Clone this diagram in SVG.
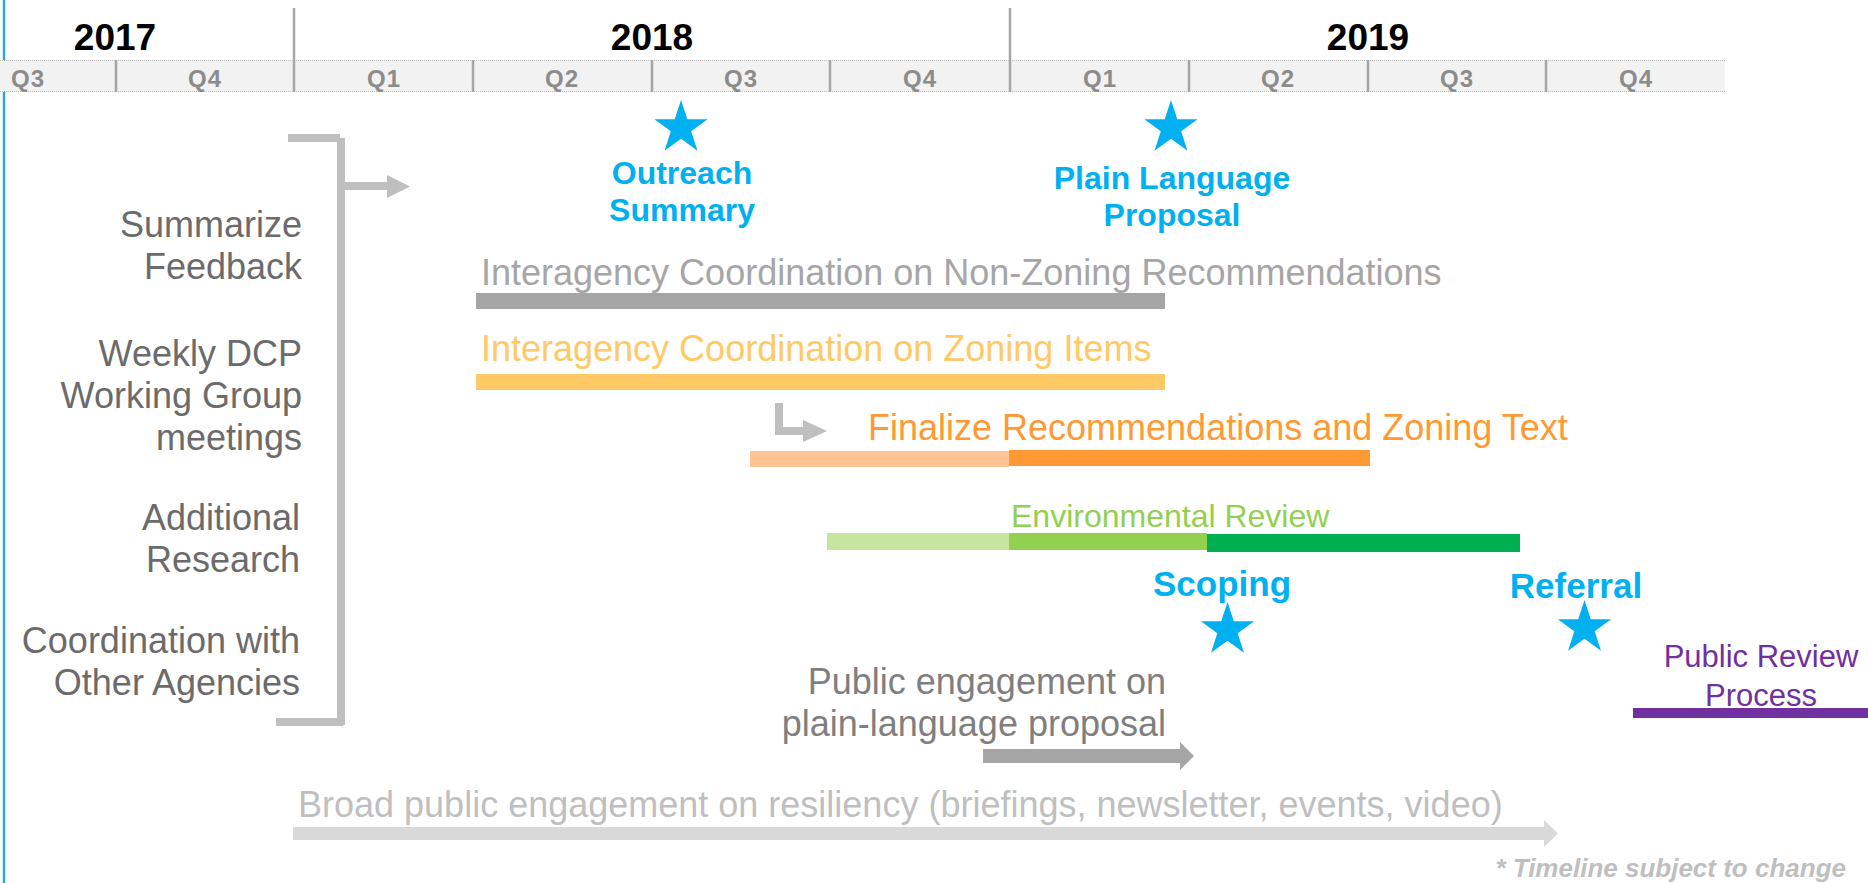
<svg xmlns="http://www.w3.org/2000/svg" width="1868" height="883" viewBox="0 0 1868 883">
<style>
text{font-family:"Liberation Sans",Arial,sans-serif}
.yr{font-size:37px;font-weight:bold;fill:#000;text-anchor:middle}
.q{font-size:24px;font-weight:bold;fill:#8c8c8c;text-anchor:middle;letter-spacing:1px}
.sep{stroke:#a6a6a6;stroke-width:2.5}
.left{font-size:36px;fill:#6b6b6b;text-anchor:end}
.ms{font-size:32px;font-weight:bold;fill:#00b0f0;text-anchor:middle}
.ms2{font-size:35px;font-weight:bold;fill:#00b0f0;text-anchor:middle}
.star{fill:#00b0f0}
.task{font-size:36px}
.brk{fill:#bfbfbf}
</style>
<defs>
<path id="star" d="M0,-28 L6.29,-8.66 L26.63,-8.65 L10.18,3.31 L16.46,22.65 L0,10.7 L-16.46,22.65 L-10.18,3.31 L-26.63,-8.65 L-6.29,-8.66 Z"/>
</defs>
<rect width="1868" height="883" fill="#fff"/>
<line x1="4" y1="0" x2="4" y2="883" stroke="#2aa7d6" stroke-width="2.5"/>

<g id="timeline-header">
<line class="sep" x1="294" y1="8" x2="294" y2="92"/>
<line class="sep" x1="1010" y1="8" x2="1010" y2="92"/>
<text class="yr" x="115" y="50">2017</text>
<text class="yr" x="652" y="50">2018</text>
<text class="yr" x="1368" y="50">2019</text>
<rect x="0" y="60" width="1725" height="32" fill="#f2f2f2"/>
<line x1="0" y1="60.5" x2="1725" y2="60.5" stroke="#bfbfbf" stroke-width="1" stroke-dasharray="1,1"/>
<line x1="0" y1="91.5" x2="1725" y2="91.5" stroke="#bfbfbf" stroke-width="1" stroke-dasharray="1,1"/>
<g class="sep">
<line x1="116" y1="60" x2="116" y2="92"/>
<line x1="294" y1="60" x2="294" y2="92"/>
<line x1="473" y1="60" x2="473" y2="92"/>
<line x1="652" y1="60" x2="652" y2="92"/>
<line x1="830" y1="60" x2="830" y2="92"/>
<line x1="1010" y1="60" x2="1010" y2="92"/>
<line x1="1189" y1="60" x2="1189" y2="92"/>
<line x1="1368" y1="60" x2="1368" y2="92"/>
<line x1="1546" y1="60" x2="1546" y2="92"/>
</g>
<text class="q" x="28" y="87">Q3</text>
<text class="q" x="205" y="87">Q4</text>
<text class="q" x="384" y="87">Q1</text>
<text class="q" x="562" y="87">Q2</text>
<text class="q" x="741" y="87">Q3</text>
<text class="q" x="920" y="87">Q4</text>
<text class="q" x="1100" y="87">Q1</text>
<text class="q" x="1278" y="87">Q2</text>
<text class="q" x="1457" y="87">Q3</text>
<text class="q" x="1636" y="87">Q4</text>
</g>

<g id="ongoing-activities">
<text class="left" x="302" y="237">Summarize</text>
<text class="left" x="302" y="279">Feedback</text>
<text class="left" x="302" y="366">Weekly DCP</text>
<text class="left" x="302" y="408">Working Group</text>
<text class="left" x="302" y="450">meetings</text>
<text class="left" x="300" y="530">Additional</text>
<text class="left" x="300" y="572">Research</text>
<text class="left" x="300" y="653">Coordination with</text>
<text class="left" x="300" y="695">Other Agencies</text>
</g>

<g id="bracket">
<rect class="brk" x="288" y="134" width="52" height="8"/>
<rect class="brk" x="337" y="138" width="8" height="587"/>
<rect class="brk" x="276" y="718" width="67" height="8"/>
</g>

<g id="milestone-outreach">
<use href="#star" class="star" x="681" y="128"/>
<text class="ms" x="682" y="184">Outreach</text>
<text class="ms" x="682" y="221">Summary</text>
</g>
<g id="milestone-plain-language">
<use href="#star" class="star" x="1171" y="128"/>
<text class="ms" x="1172" y="189">Plain Language</text>
<text class="ms" x="1172" y="226">Proposal</text>
</g>

<g id="task-nonzoning">
<text class="task" x="481" y="285" fill="#a6a6a6">Interagency Coordination on Non-Zoning Recommendations</text>
<rect x="476" y="293" width="689" height="16" fill="#a5a5a5"/>
</g>
<g id="task-zoning">
<text class="task" x="481" y="361" fill="#ffc966">Interagency Coordination on Zoning Items</text>
<rect x="476" y="374" width="689" height="16" fill="#ffc966"/>
</g>
<g id="task-finalize">
<text class="task" x="868" y="440" fill="#ff9933">Finalize Recommendations and Zoning Text</text>
<rect x="750" y="451" width="259" height="16" fill="#ffc491"/>
<rect x="1009" y="450" width="361" height="16" fill="#ff9933"/>
</g>
<g id="task-environmental">
<text x="1011" y="527" font-size="32" fill="#92d050">Environmental Review</text>
<rect x="827" y="533" width="182" height="17" fill="#c5e5a0"/>
<rect x="1009" y="533" width="198" height="17" fill="#92d050"/>
<rect x="1207" y="534" width="313" height="18" fill="#00b050"/>
</g>
<g id="milestone-scoping">
<text class="ms2" x="1222" y="596">Scoping</text>
<use href="#star" class="star" x="1227.5" y="630"/>
</g>
<g id="milestone-referral">
<text class="ms2" x="1576" y="598">Referral</text>
<use href="#star" class="star" x="1584.5" y="628"/>
</g>
<g id="task-public-review">
<text x="1761" y="667" font-size="31" fill="#7030a0" text-anchor="middle">Public Review</text>
<text x="1761" y="706" font-size="31" fill="#7030a0" text-anchor="middle">Process</text>
<rect x="1633" y="708" width="235" height="10" fill="#7030a0"/>
</g>
<g id="task-public-engagement">
<text class="task" x="1166" y="694" fill="#7f7f7f" text-anchor="end">Public engagement on</text>
<text class="task" x="1166" y="736" fill="#7f7f7f" text-anchor="end">plain-language proposal</text>
</g>
<g id="task-broad-engagement">
<text class="task" x="298" y="817" fill="#bfbfbf">Broad public engagement on resiliency (briefings, newsletter, events, video)</text>
</g>

<g id="connectors">
<path d="M345,182 H387 V175 L410,186.5 L387,198 V190 H345 Z" fill="#bfbfbf"/>
<path d="M775,403 H783 V427 H803 V420 L827,431 L803,442 V435 H775 Z" fill="#bfbfbf"/>
<path d="M983,749 H1180 V742 L1194,756 L1180,770 V763 H983 Z" fill="#a6a6a6"/>
<path d="M293,827 H1544 V820 L1558,833.5 L1544,847 V840 H293 Z" fill="#d9d9d9"/>
</g>

<text x="1846" y="877" font-size="26" font-weight="bold" font-style="italic" fill="#bfbfbf" text-anchor="end">* Timeline subject to change</text>
</svg>
